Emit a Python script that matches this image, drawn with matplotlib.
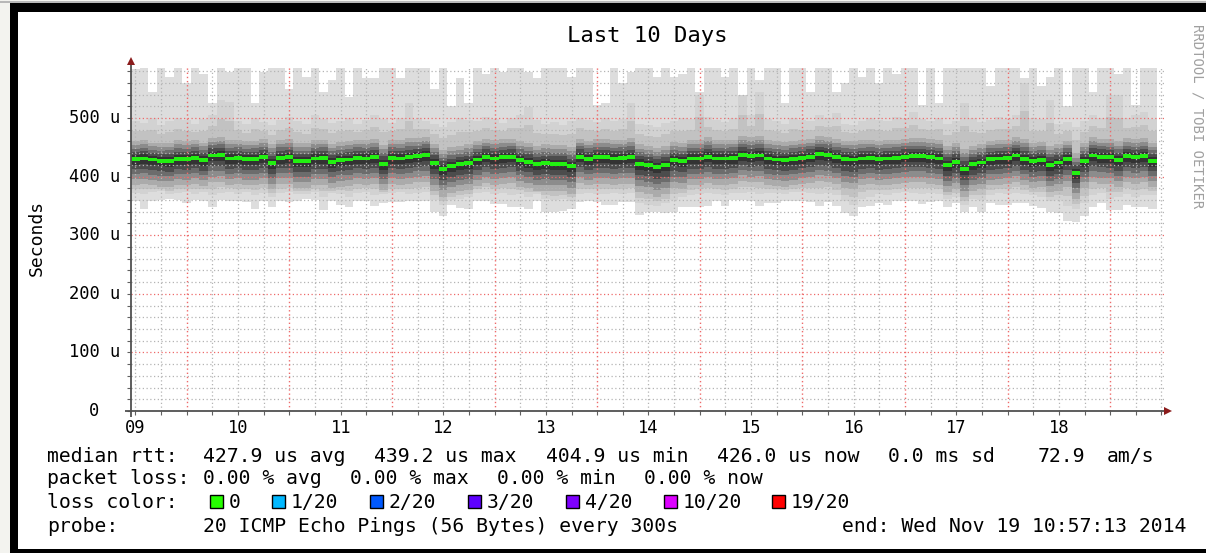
import numpy as np
import matplotlib
matplotlib.use('Agg')
import matplotlib.pyplot as plt
from matplotlib.patches import Rectangle
import matplotlib.transforms as mtransforms

W, H = 1206, 553
MONO = 'DejaVu Sans Mono'

# time axis: days since Nov 09 00:00, one value every 2 hours, start Nov 09 10:57
T0 = 10.95 / 24
STEPS_PER_DAY = 12

# median rtt (us) per step
med = [430, 431, 429, 427, 426, 430, 430, 432, 428, 436, 437, 431, 432, 430, 430, 433, 423, 432, 433, 426, 426, 431, 432, 425,
       428, 429, 432, 431, 433, 422, 432, 431, 433, 435, 437, 423, 413, 418, 421, 423, 429, 434, 431, 433, 434, 428, 425, 421,
       423, 422, 422, 418, 434, 430, 433, 433, 431, 432, 433, 422, 420, 417, 420, 428, 426, 431, 431, 434, 431, 431, 432, 437,
       435, 436, 431, 429, 428, 430, 432, 434, 438, 437, 433, 430, 429, 431, 432, 430, 431, 432, 434, 435, 435, 433, 431, 420,
       425, 413, 421, 424, 430, 431, 432, 436, 430, 426, 428, 420, 424, 430, 406, 426, 436, 434, 433, 428, 435, 433, 435, 427]
# slowest / fastest ping per step
hi = [583, 585, 545, 585, 570, 585, 560, 585, 575, 525, 585, 578, 585, 585, 525, 578, 585, 585, 550, 585, 570, 585, 545, 565,
      585, 535, 585, 568, 568, 585, 585, 568, 585, 585, 585, 550, 585, 520, 568, 525, 585, 575, 585, 578, 585, 585, 578, 568,
      585, 585, 585, 570, 585, 585, 522, 525, 585, 560, 578, 585, 585, 570, 585, 570, 575, 585, 545, 585, 585, 570, 585, 540,
      585, 565, 585, 585, 525, 585, 585, 545, 585, 585, 545, 560, 585, 570, 585, 560, 585, 575, 585, 585, 522, 585, 525, 585,
      585, 585, 585, 585, 555, 585, 585, 585, 568, 585, 555, 570, 585, 520, 585, 585, 545, 585, 585, 575, 585, 522, 585, 585]
lo = [358, 345, 358, 360, 362, 360, 355, 360, 358, 348, 360, 358, 358, 356, 345, 358, 348, 358, 356, 358, 362, 360, 343, 358,
      352, 348, 358, 358, 350, 355, 356, 356, 358, 358, 358, 340, 332, 352, 346, 345, 358, 358, 353, 353, 348, 348, 345, 358,
      340, 340, 342, 345, 356, 358, 356, 352, 352, 356, 356, 335, 340, 340, 338, 340, 348, 348, 348, 350, 358, 350, 360, 360,
      358, 350, 355, 355, 358, 358, 358, 356, 350, 357, 350, 338, 332, 348, 350, 355, 352, 358, 358, 358, 354, 356, 358, 348,
      355, 340, 348, 340, 355, 352, 352, 355, 355, 350, 346, 340, 338, 325, 322, 333, 348, 355, 343, 343, 352, 348, 348, 345]
# second smoke layer
up2 = [495, 492, 500, 488, 495, 500, 497, 490, 498, 505, 530, 528, 495, 490, 500, 493, 488, 497, 502, 495, 490, 505, 498, 492,
       495, 500, 490, 497, 505, 498, 492, 500, 525, 498, 495, 490, 485, 493, 500, 497, 495, 502, 498, 492, 500, 505, 518, 497,
       490, 493, 488, 495, 500, 497, 493, 500, 495, 498, 525, 490, 488, 485, 492, 495, 500, 498, 540, 502, 497, 493, 500, 540,
       505, 545, 498, 495, 490, 500, 497, 495, 505, 500, 508, 490, 488, 495, 500, 497, 495, 502, 500, 510, 498, 495, 500, 490,
       495, 525, 500, 493, 497, 502, 498, 505, 560, 500, 498, 530, 490, 493, 485, 495, 505, 500, 540, 540, 500, 505, 510, 498]
dn2 = [372, 370, 373, 375, 370, 372, 374, 371, 373, 368, 372, 374, 370, 373, 368, 372, 365, 372, 374, 370, 371, 373, 366, 372,
       370, 366, 372, 374, 368, 370, 372, 373, 371, 372, 373, 360, 352, 360, 362, 365, 372, 374, 370, 372, 368, 370, 366, 370,
       362, 360, 362, 358, 370, 372, 371, 370, 372, 370, 372, 355, 352, 350, 355, 360, 365, 368, 370, 372, 370, 368, 372, 372,
       373, 370, 372, 372, 370, 373, 374, 372, 370, 372, 368, 358, 352, 362, 366, 370, 368, 372, 373, 372, 370, 372, 370, 362,
       366, 352, 362, 360, 368, 372, 370, 372, 370, 368, 365, 358, 360, 350, 345, 355, 368, 372, 362, 365, 370, 366, 368, 368]
# dark core of the smoke
up1 = [460, 462, 458, 457, 458, 462, 460, 463, 458, 466, 468, 462, 463, 460, 461, 464, 455, 463, 464, 457, 457, 462, 463, 456,
       459, 460, 463, 462, 464, 454, 463, 462, 466, 466, 468, 456, 446, 450, 452, 455, 460, 465, 462, 464, 465, 460, 458, 453,
       455, 454, 454, 450, 465, 461, 464, 464, 462, 463, 466, 455, 452, 449, 452, 459, 457, 462, 462, 468, 462, 462, 463, 470,
       467, 470, 462, 460, 459, 461, 463, 465, 469, 468, 464, 461, 460, 462, 463, 461, 462, 463, 465, 466, 466, 464, 462, 452,
       457, 447, 452, 455, 461, 462, 463, 468, 465, 457, 459, 452, 455, 461, 440, 457, 467, 465, 464, 460, 466, 464, 466, 458]
dn1 = [386, 387, 385, 383, 382, 386, 385, 388, 384, 390, 391, 386, 387, 385, 385, 388, 378, 387, 388, 381, 381, 386, 385, 380,
       383, 384, 387, 386, 388, 377, 387, 386, 388, 390, 391, 376, 366, 372, 375, 377, 384, 389, 386, 388, 389, 383, 380, 376,
       376, 375, 375, 371, 389, 385, 388, 388, 386, 387, 388, 373, 371, 366, 370, 380, 379, 386, 386, 389, 386, 386, 387, 392,
       390, 391, 386, 384, 383, 385, 387, 389, 392, 391, 387, 380, 378, 385, 387, 385, 386, 387, 389, 390, 390, 388, 386, 374,
       378, 365, 375, 378, 385, 386, 387, 391, 385, 380, 382, 373, 376, 383, 362, 380, 390, 388, 387, 382, 390, 388, 390, 382]

day_labels = ['09', '10', '11', '12', '13', '14', '15', '16', '17', '18']
y_ticks = [0, 100, 200, 300, 400, 500]
y_tick_labels = ['0  ', '100 u', '200 u', '300 u', '400 u', '500 u']

legend_rtt = ['median rtt:', '427.9 us avg', '439.2 us max', '404.9 us min',
              '426.0 us now', '0.0 ms sd', '72.9', 'am/s']
legend_loss = ['packet loss:', '0.00 % avg', '0.00 % max', '0.00 % min', '0.00 % now']
loss_labels = ['0', '1/20', '2/20', '3/20', '4/20', '10/20', '19/20']
loss_colors = ['#26ff00', '#00b8ff', '#0059ff', '#5e00ff', '#7e00ff', '#dd00ff', '#ff0000']


def px(x, y):
    return x / W, 1 - y / H


def rect(x0, y0, x1, y1, color, z=-5, **kw):
    fig.patches.append(Rectangle(px(x0, y1), (x1 - x0) / W, (y1 - y0) / H,
                                 transform=fig.transFigure, facecolor=color, zorder=z, **kw))


fig = plt.figure(figsize=(W / 100, H / 100), dpi=100, facecolor='#f3f3ef')
rect(0, 1, W, 2.8, '#b8b8b8')
rect(10, 3.4, W, H, '#000000')
rect(18.3, 11.7, W, 549, '#ffffff', z=-4)

# plot area: x 131..1165 px, y 66..411 px
ax_l, ax_r, ax_t, ax_b = 131, 1165, 66.4, 411
ax = fig.add_axes([ax_l / W, 1 - ax_b / H, (ax_r - ax_l) / W, (ax_b - ax_t) / H])
ax.set_facecolor('white')
px_per_day = 102.6
px_per_u = 0.586
ax.set_xlim(T0, T0 + (ax_r - ax_l) / px_per_day)
ax.set_ylim(0, (ax_b - ax_t) / px_per_u)
for s in ax.spines.values():
    s.set_visible(False)

t = T0 + np.arange(len(med) + 1) / STEPS_PER_DAY
med_a, hi_a, lo_a = np.array(med, float), np.array(hi, float), np.array(lo, float)
up2_a, dn2_a = np.array(up2, float), np.array(dn2, float)
up1_a, dn1_a = np.array(up1, float), np.array(dn1, float)


def ext(a):
    return np.append(a, a[-1])


def band(b, top, color, z=1):
    ax.fill_between(t, ext(b), ext(top), step='post', color=color, lw=0, zorder=z)


# smoke: light outer layers, then a gradient that darkens towards the median
band(lo_a, hi_a, '#dddddd')
band(dn2_a, up2_a, '#d2d2d2')
band((dn2_a + dn1_a) / 2, (up2_a + up1_a) / 2, '#c2c2c2')
band(dn1_a, up1_a, '#ababab')
for f, c in [(0.78, '#8c8c8c'), (0.58, '#6c6c6c'), (0.40, '#4c4c4c'), (0.22, '#333333')]:
    band(med_a - f * (med_a - dn1_a), med_a + f * (up1_a - med_a), c)

# grid
dot = (0, (1, 2))
ymax = ax.get_ylim()[1]
for u in range(20, int(ymax), 20):
    if u % 100:
        ax.axhline(u, color='#b4b4b4', lw=0.9, ls=dot, zorder=2)
for u in range(100, int(ymax), 100):
    ax.axhline(u, color='#ee6a6a', lw=0.9, ls=dot, zorder=2)
xmax = ax.get_xlim()[1]
for q in np.arange(0.5, xmax, 0.25):
    if q > T0 and abs(q - round(q)) > 1e-6:
        ax.axvline(q, color='#b4b4b4', lw=0.9, ls=dot, zorder=2)
for d in range(1, 11):
    ax.axvline(d, color='#ee6a6a', lw=1.0, ls=dot, zorder=2)

# median
ax.fill_between(t, ext(med_a - 3.2), ext(med_a + 3.2), step='post', color='#22f011', lw=0, zorder=3)

# ticks
ax.set_xticks(np.arange(1, 11))
ax.set_xticks([q for q in np.arange(0.5, xmax, 0.25) if q > T0], minor=True)
ax.set_yticks(range(0, int(ymax), 20))
ax.tick_params(which='both', direction='out', length=3, width=0.8, color='#606060',
               labelbottom=False, labelleft=False)

# axis lines with arrows
ax.plot([T0 - 6 / px_per_day, T0 + (1168 - ax_l) / px_per_day], [0, 0], color='#505050', lw=1.3,
        clip_on=False, zorder=6, solid_capstyle='butt')
ax.plot([T0, T0], [-6 / px_per_u, (ax_b - 62) / px_per_u], color='#505050', lw=1.3,
        clip_on=False, zorder=6, solid_capstyle='butt')
ax.plot(T0 + (1168 - ax_l) / px_per_day, 0, marker='>', ms=6, color='#8b1c1c', clip_on=False, zorder=7, mew=0)
ax.plot(T0, (ax_b - 61) / px_per_u, marker='^', ms=6, color='#8b1c1c', clip_on=False, zorder=7, mew=0)

# tick labels
ylab_tr = mtransforms.blended_transform_factory(fig.transFigure, ax.transData)
for v, lab in zip(y_ticks, y_tick_labels):
    ax.text(120 / W, v, lab, transform=ylab_tr, ha='right', va='center', family=MONO, fontsize=12.3)
xlab_tr = mtransforms.blended_transform_factory(ax.transData, fig.transFigure)
for i, lab in enumerate(day_labels):
    ax.text(i + 0.5, 1 - 428 / H, lab, transform=xlab_tr, ha='center', va='center', family=MONO, fontsize=12.3)

fig.text(*px(647, 36), 'Last 10 Days', ha='center', va='center', family=MONO, fontsize=16)
fig.text(*px(37, 238), 'Seconds', ha='center', va='center', rotation=90, family=MONO, fontsize=13)
fig.text(*px(1197, 116), 'RRDTOOL / TOBI OETIKER', ha='center', va='center', rotation=270,
         family=MONO, fontsize=10, color='#a0a0a0')

# legend
FS = 14.2
for x, s in zip([47, 203, 374, 546, 717, 888, 1038, 1107], legend_rtt):
    fig.text(*px(x, 456), s, ha='left', va='center', family=MONO, fontsize=FS)
for x, s in zip([47, 203, 350, 497, 644], legend_loss):
    fig.text(*px(x, 479), s, ha='left', va='center', family=MONO, fontsize=FS)
fig.text(*px(47, 502), 'loss color:', ha='left', va='center', family=MONO, fontsize=FS)
for tx, lab, col in zip([229, 291, 389, 487, 585, 683, 791], loss_labels, loss_colors):
    bx = tx - 19
    rect(bx, 502 - 7, bx + 13, 502 + 6, col, z=1, edgecolor='black', linewidth=1)
    fig.text(*px(tx, 502), lab, ha='left', va='center', family=MONO, fontsize=FS)
fig.text(*px(47, 526), 'probe:', ha='left', va='center', family=MONO, fontsize=FS)
fig.text(*px(203, 526), '20 ICMP Echo Pings (56 Bytes) every 300s', ha='left', va='center',
         family=MONO, fontsize=FS)
fig.text(*px(1186, 526), 'end: Wed Nov 19 10:57:13 2014', ha='right', va='center',
         family=MONO, fontsize=FS)

fig.savefig('out.png', dpi=100, facecolor=fig.get_facecolor())
